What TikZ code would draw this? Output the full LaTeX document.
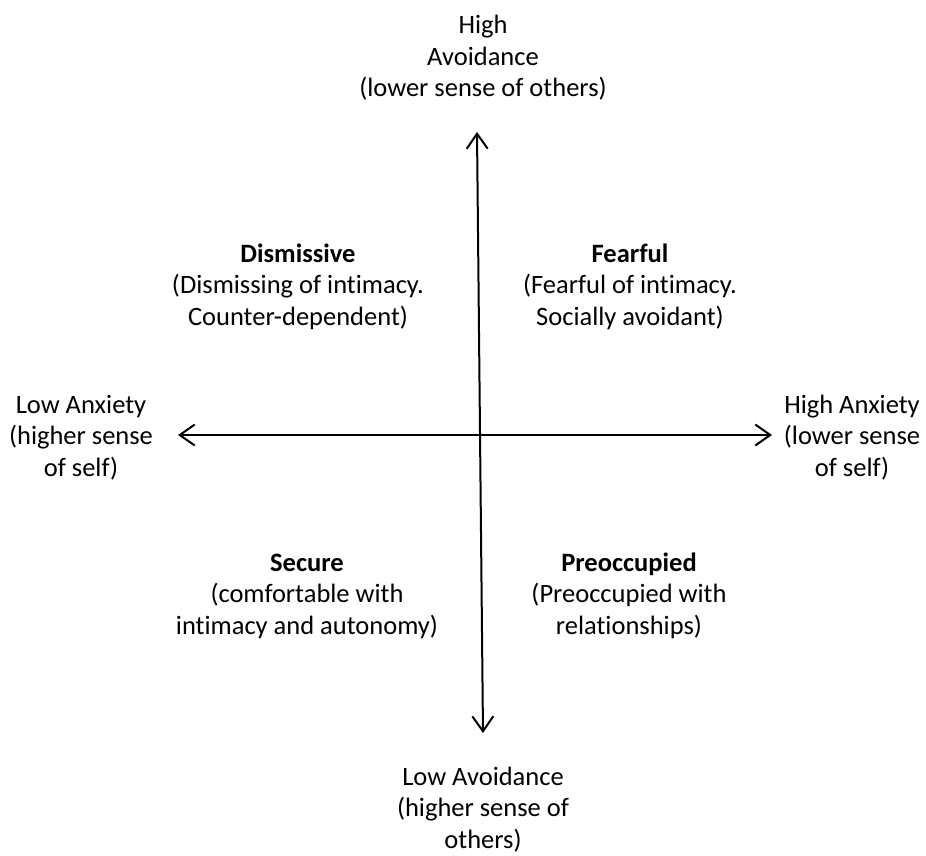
\documentclass[tikz,border=0pt]{standalone}
\usepackage{fontspec}
\setmainfont{Carlito}[Ligatures={NoCommon}]
\usetikzlibrary{arrows.meta}
\tikzset{
  lbl/.style={align=center, font=\fontsize{26.5}{31.5}\selectfont, inner sep=0pt, anchor=base},
  axis/.style={line width=2pt, {Straight Barb[length=15pt,width=21pt,line width=2pt]}-{Straight Barb[length=15pt,width=21pt,line width=2pt]}}
}
\begin{document}
\begin{tikzpicture}[x=1pt,y=-1pt]
\useasboundingbox (0,0) rectangle (926,856);
\coordinate (top) at (477,132);
\coordinate (bot) at (483,733);
\coordinate (lft) at (178,435);
\coordinate (rgt) at (772,435);
\draw[axis] (bot) -- (top);
\draw[axis] (lft) -- (rgt);
\node[lbl] (ha) at (483,97) {High\\Avoidance\\(lower sense of others)};
\node[lbl] (la) at (483,848) {Low Avoidance\\(higher sense of\\others)};
\node[lbl] (lx) at (81,476) {Low Anxiety\\(higher sense\\of self)};
\node[lbl] (hx) at (852,476) {High Anxiety\\(lower sense\\of self)};
\node[lbl] (dis) at (298,325) {\textbf{Dismissive}\\(Dismissing of intimacy.\\Counter-dependent)};
\node[lbl] (fea) at (630,325) {\textbf{Fearful}\\(Fearful of intimacy.\\Socially avoidant)};
\node[lbl] (sec) at (307,634) {\textbf{Secure}\\(comfortable with\\intimacy and autonomy)};
\node[lbl] (pre) at (629,634) {\textbf{Preoccupied}\\(Preoccupied with\\relationships)};
\end{tikzpicture}
\end{document}
